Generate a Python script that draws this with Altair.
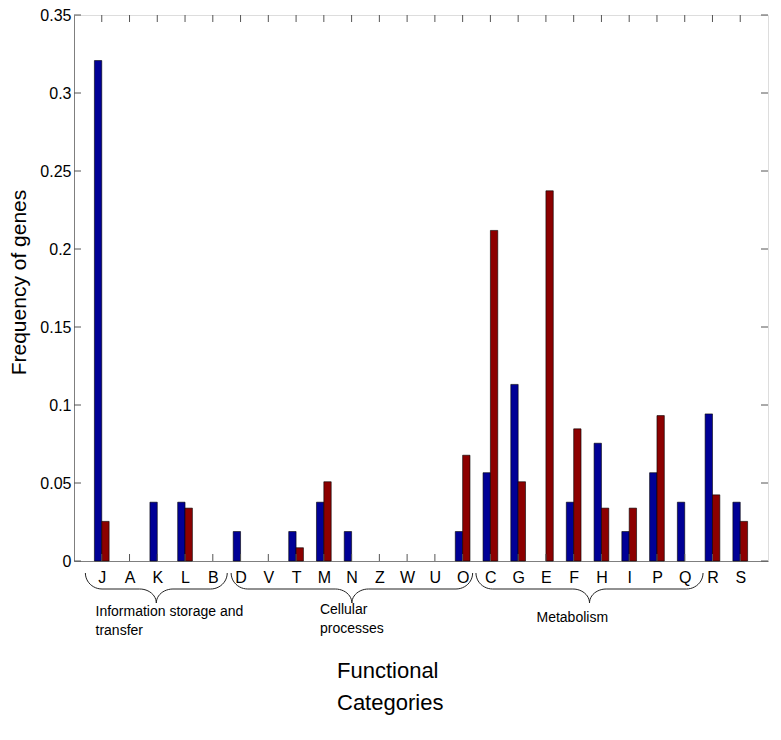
import math
import altair as alt
import pandas as pd

# ---------------- data ----------------
categories = ["J", "A", "K", "L", "B", "D", "V", "T", "M", "N", "Z", "W",
              "U", "O", "C", "G", "E", "F", "H", "I", "P", "Q", "R", "S"]
series_blue = [0.3208, 0, 0.0377, 0.0377, 0, 0.0189, 0, 0.0189, 0.0377, 0.0189, 0, 0,
               0, 0.0189, 0.0566, 0.1132, 0, 0.0377, 0.0755, 0.0189, 0.0566, 0.0377, 0.0943, 0.0377]
series_red = [0.0254, 0, 0, 0.0339, 0, 0, 0, 0.0085, 0.0508, 0, 0, 0,
              0, 0.0678, 0.2119, 0.0508, 0.2373, 0.0847, 0.0339, 0.0339, 0.0932, 0, 0.0424, 0.0254]
y_tick_values = [0, 0.05, 0.1, 0.15, 0.2, 0.25, 0.3, 0.35]

group_labels = ["Information storage and\ntransfer", "Cellular\nprocesses", "Metabolism"]
group_first = ["J", "D", "C"]
group_last = ["B", "O", "Q"]

# ---------------- layout (annotation geometry) ----------------
W, H = 694, 546
YMAX = 0.35
BAR_W = 0.265
PX = YMAX / H                            # data units per pixel (vertical)
brace_pad_left = [0.59, 0.34, 0.52]
brace_pad_right = [0.52, 0.36, 0.66]
brace_y_end, brace_y_mid, brace_y_tip = -12 * PX, -28 * PX, -42 * PX
brace_r = 0.6
label_dx = [-0.225, 2.86, 1.66]
label_y = [-55 * PX, -53 * PX, -61 * PX]
AX = "#7f7f7f"
FONT = "Liberation Sans"

# ---------------- build tables ----------------
rows = []
for i, c in enumerate(categories):
    idx = i + 1
    rows.append(dict(cat=c, series="blue", x0=idx - BAR_W, x1=idx, v=series_blue[i], base=0))
    rows.append(dict(cat=c, series="red", x0=idx, x1=idx + BAR_W, v=series_red[i], base=0))
bars_df = pd.DataFrame(rows)

pos = {c: i + 1 for i, c in enumerate(categories)}

brace_rows = []
for g in range(len(group_labels)):
    xa = pos[group_first[g]] - brace_pad_left[g]
    xb = pos[group_last[g]] + brace_pad_right[g]
    xm = (xa + xb) / 2
    pts = []
    n = 12
    for k in range(n + 1):
        t = (math.pi / 2) * k / n
        pts.append((xa + brace_r * (1 - math.cos(t)), brace_y_end + (brace_y_mid - brace_y_end) * math.sin(t)))
    for k in range(n + 1):
        t = (math.pi / 2) * k / n
        pts.append((xm - brace_r + brace_r * math.sin(t), brace_y_mid + (brace_y_tip - brace_y_mid) * (1 - math.cos(t))))
    right = [(2 * xm - x, y) for (x, y) in pts]
    right.reverse()
    pts = pts + right
    for k, (x, y) in enumerate(pts):
        brace_rows.append(dict(g=g, i=k, bx=x, by=y))
brace_df = pd.DataFrame(brace_rows)

label_df = pd.DataFrame(dict(
    text=group_labels,
    lx=[pos[group_first[g]] + label_dx[g] for g in range(len(group_labels))],
    ly=label_y,
))

xt_df = pd.DataFrame(dict(x=list(range(1, len(categories) + 1))))
yt_df = pd.DataFrame(dict(y=y_tick_values))

# ---------------- scales / axes ----------------
xscale = alt.Scale(domain=[0, len(categories) + 1], nice=False, zero=False)
yscale = alt.Scale(domain=[0, YMAX], nice=False)

label_arr = "[" + ",".join("'" + c + "'" for c in categories) + "]"
xaxis = alt.Axis(
    values=list(range(1, len(categories) + 1)),
    labelExpr=label_arr + "[datum.value - 1]",
    ticks=False, grid=False, domainColor=AX,
    labelFontSize=16, labelFont=FONT, labelColor="black", labelPadding=8,
    title=["Functional", "Categories"], titleFont=FONT, titleFontSize=22,
    titleFontWeight="normal", titleColor="black",
    titleAlign="left", titleX=262.5, titleY=116, titleBaseline="alphabetic",
    titleLineHeight=32, labelFlush=False,
)
yaxis = alt.Axis(
    values=y_tick_values, format="~g",
    ticks=False, grid=False, domainColor=AX,
    labelFontSize=16, labelFont=FONT, labelColor="black", labelPadding=3,
    title="Frequency of genes", titleFont=FONT, titleFontSize=21,
    titleFontWeight="normal", titleColor="black",
    titleX=-48.5, titleY=267, titleBaseline="alphabetic", titleAngle=270,
)

X = lambda f: alt.X(f, scale=xscale, axis=xaxis)
Y = lambda f: alt.Y(f, scale=yscale, axis=yaxis)

bars = alt.Chart(bars_df).transform_filter("datum.v > 0").mark_rect(
    stroke="black", strokeWidth=0.6
).encode(
    x=X("x0:Q"), x2="x1:Q", y=Y("v:Q"), y2="base:Q",
    color=alt.Color("series:N", scale=alt.Scale(domain=["blue", "red"], range=["#000096", "#8c0000"]), legend=None),
)

bottom_ticks = alt.Chart(xt_df).mark_rule(color="#555", strokeWidth=1).encode(
    x=X("x:Q"), y=alt.value(H - 7), y2=alt.value(H))
top_ticks = alt.Chart(xt_df).mark_rule(color="#555", strokeWidth=1).encode(
    x=X("x:Q"), y=alt.value(0), y2=alt.value(7))
left_ticks = alt.Chart(yt_df).mark_rule(color="#555", strokeWidth=1).encode(
    y=Y("y:Q"), x=alt.value(0), x2=alt.value(7))
right_ticks = alt.Chart(yt_df).mark_rule(color="#555", strokeWidth=1).encode(
    y=Y("y:Q"), x=alt.value(W - 7), x2=alt.value(W))

braces = alt.Chart(brace_df).mark_line(color="#222", strokeWidth=1, clip=False).encode(
    x=X("bx:Q"), y=Y("by:Q"), detail="g:N", order="i:Q",
)

labels = alt.Chart(label_df).mark_text(
    align="left", baseline="alphabetic", font=FONT, fontSize=14, lineBreak="\n",
    lineHeight=19, color="black",
).encode(
    x=X("lx:Q"), y=Y("ly:Q"), text="text:N",
)

chart = alt.layer(bars, bottom_ticks, top_ticks, left_ticks, right_ticks, braces, labels).properties(
    width=W, height=H,
    autosize=alt.AutoSizeParams(type="none"),
    padding={"left": 66, "top": 7, "right": 5, "bottom": 170},
).configure_view(stroke=AX, strokeWidth=1).configure(background="white")

chart.save("out.html", embed_options={"renderer": "svg", "actions": False})
